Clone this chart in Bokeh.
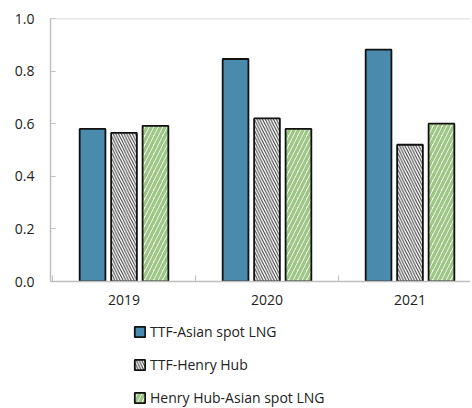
from bokeh.plotting import figure
from bokeh.layouts import column
from bokeh.models import (ColumnDataSource, Range1d, FixedTicker, Legend, LegendItem,
                          Span)
from bokeh.embed import file_html
from bokeh.resources import INLINE

years = ["2019", "2020", "2021"]
ttf_asian = [0.58, 0.846, 0.882]
ttf_hh = [0.565, 0.62, 0.52]
hh_asian = [0.592, 0.58, 0.60]
y_ticks = [0.0, 0.2, 0.4, 0.6, 0.8, 1.0]
series_names = ["TTF-Asian spot LNG", "TTF-Henry Hub", "Henry Hub-Asian spot LNG"]

centers = [i + 0.5 for i in range(len(years))]
offset = 0.22
bw = 0.18

FONT = "Open Sans"
TXT = "#222222"
AX = "#BFBFBF"

STYLES = [
    dict(fill_color="#4A8AAD", line_color="#111111", line_width=1.8),
    dict(fill_color="white", hatch_pattern="\\", hatch_color="#333333", hatch_scale=5.5,
         hatch_weight=1, line_color="#111111", line_width=1.8),
    dict(fill_color="white", hatch_pattern="/", hatch_color="#9DC784", hatch_scale=9,
         hatch_weight=3.3, line_color="#111111", line_width=1.8),
]

p = figure(width=470, height=311, output_backend="svg",
           toolbar_location=None, x_range=Range1d(-0.014, 2.923),
           y_range=Range1d(0, 1.0), min_border_left=50, min_border_right=0,
           min_border_top=18, min_border_bottom=30)
p.outline_line_color = None
p.grid.grid_line_color = None

src = ColumnDataSource(dict(
    x1=[c - offset for c in centers], x2=centers, x3=[c + offset for c in centers],
    a=ttf_asian, b=ttf_hh, c=hh_asian))

p.vbar(x="x1", top="a", width=bw, source=src, **STYLES[0])
p.vbar(x="x2", top="b", width=bw, source=src, **STYLES[1])
p.vbar(x="x3", top="c", width=bw, source=src, **STYLES[2])

p.add_layout(Span(location=1.0, dimension="width", line_color="#D0D0D0", line_width=1.5))

# x axis
xa = p.xaxis[0]
xa.ticker = FixedTicker(ticks=centers, minor_ticks=[0, 1, 2, 3])
xa.major_label_overrides = {c: y for c, y in zip(centers, years)}
xa.major_tick_line_color = None
xa.minor_tick_line_color = AX
xa.minor_tick_in = 6
xa.minor_tick_out = 0
xa.axis_line_color = AX
xa.axis_line_width = 1.5
xa.major_label_standoff = 7
xa.major_label_text_font = FONT
xa.major_label_text_font_size = "14px"
xa.major_label_text_color = TXT

ya = p.yaxis[0]
ya.ticker = FixedTicker(ticks=y_ticks)
ya.major_label_overrides = {t: f"{t:.1f}" for t in y_ticks}
ya.major_tick_line_color = AX
ya.major_tick_in = 5
ya.major_tick_out = 0
ya.minor_tick_line_color = None
ya.axis_line_color = AX
ya.axis_line_width = 1.5
ya.major_label_standoff = 16
ya.major_label_text_font = FONT
ya.major_label_text_font_size = "14px"
ya.major_label_text_color = TXT

# legend panel (legend-only glyphs, hidden from the plot itself)
p2 = figure(width=470, height=96, output_backend="svg", toolbar_location=None,
            x_range=Range1d(0, 1), y_range=Range1d(0, 1), min_border=0,
            min_border_left=0, min_border_right=0, min_border_top=0, min_border_bottom=0)
p2.axis.visible = False
p2.grid.grid_line_color = None
p2.outline_line_color = None
lr = [p2.vbar(x=[-10], top=[1], width=0.1, visible=False, **s) for s in STYLES]

legend = Legend(items=[LegendItem(label=n, renderers=[r]) for n, r in zip(series_names, lr)],
                location=(83, 0), orientation="vertical", border_line_color=None,
                background_fill_alpha=0, padding=0, margin=0, spacing=13,
                glyph_width=13, glyph_height=13, label_height=20, label_standoff=4,
                inactive_fill_alpha=0,
                label_text_font=FONT, label_text_font_size="14px", label_text_color=TXT)
p2.add_layout(legend, "center")

open("out.html", "w").write(file_html(column(p, p2, spacing=0), INLINE))
